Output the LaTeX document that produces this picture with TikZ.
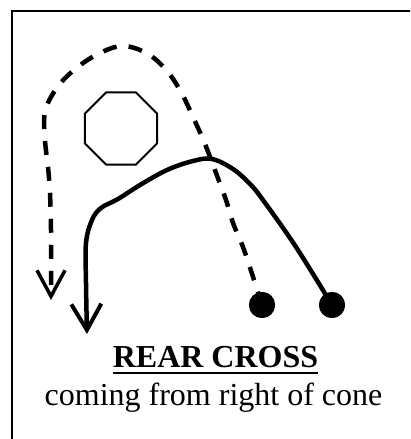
\documentclass[tikz,border=0pt]{standalone}
\usepackage{fontspec}
\setmainfont{Liberation Serif}
\usetikzlibrary{arrows.meta,shapes.geometric}
\tikzset{
  frameline/.style={line width=2pt},
  conebox/.style={draw, regular polygon, regular polygon sides=8, minimum size=78pt, inner sep=0pt, line width=2pt},
  dog/.style={circle, fill=black, minimum size=26pt, inner sep=0pt},
  pathsolid/.style={line width=4.5pt, line cap=round, -{Straight Barb[length=26pt, width=30pt, line width=4pt]}},
  pathdashed/.style={line width=4.5pt, dash pattern=on 14pt off 12pt, -{Straight Barb[length=26pt, width=28pt, line width=3.5pt]}},
  lbl/.style={inner sep=0pt, font=\fontsize{32}{38}\selectfont}
}
\begin{document}
\begin{tikzpicture}[x=1pt,y=-1pt]
\useasboundingbox (0,0) rectangle (410,439);
\clip (0,0) rectangle (410,439);
\draw[frameline] (12,460) -- (12,11) -- (430,11);
\node[conebox] (cone) at (121,128.5) {};
\node[dog] (d1) at (262,305) {};
\node[dog] (d2) at (332,305) {};
\coordinate (e1) at (51,300);
\coordinate (e2) at (87,334);
\draw[pathdashed] plot[smooth, tension=0.6] coordinates {(d1) (255,283) (243,247) (233,223) (226,200) (216,173) (205,144) (193,117) (181,92) (167,71) (148,54) (123,46) (98,54) (74,70) (56,89) (45,112) (45,140) (48,167) (50,193) (51,230) (51,260) (e1)};
\draw[pathsolid] plot[smooth, tension=0.6] coordinates {(d2) (296,247) (263,200) (250,184) (233,169) (212,159) (193,161) (167,170) (140,185) (118,199) (101,208) (92,220) (86,243) (86,283) (e2)};
\node[dog] at (d1) {};
\node[dog] at (d2) {};
\node[lbl, anchor=base, font=\fontsize{32}{38}\selectfont\bfseries] (title) at (215.5,367) {REAR CROSS};
\draw[line width=2pt] ([yshift=-6pt]title.base west) -- ([yshift=-6pt]title.base east);
\node[lbl, anchor=base] (sub) at (213.5,405) {coming from right of cone};
\end{tikzpicture}
\end{document}
